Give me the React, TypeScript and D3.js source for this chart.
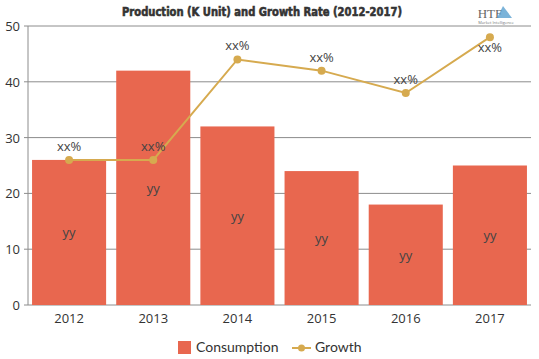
import React from "react";
import * as d3 from "d3";

const years = ["2012", "2013", "2014", "2015", "2016", "2017"];
const consumption = [26, 42, 32, 24, 18, 25];
const growth = [26, 26, 44, 42, 38, 48];
const barLabels = ["yy", "yy", "yy", "yy", "yy", "yy"];
const growthLabels = ["xx%", "xx%", "xx%", "xx%", "xx%", "xx%"];
const yTicks = [0, 10, 20, 30, 40, 50];

const W = 539, H = 359;
const left = 28, right = 531, top = 26, bottom = 305;
const barColor = "#E8674F";
const lineColor = "#D6AA4F";

export default function App() {
  const x = d3.scaleBand<string>().domain(years).range([left - 1, right + 1]).paddingInner(0.12).paddingOuter(0.06);
  const y = d3.scaleLinear().domain([0, 50]).range([bottom, top]);
  const cx = (d: string) => (x(d) as number) + x.bandwidth() / 2;
  const line = d3.line<number>().x((_, i) => cx(years[i])).y((v) => y(v));
  const font = "'Open Sans', 'DejaVu Sans', sans-serif";
  return (
    <svg width={W} height={H} style={{ position: "absolute", left: 0, top: 0, background: "#fff" }}>
      <text x={262} y={16} textAnchor="middle" fontFamily="'DejaVu Sans Condensed', 'DejaVu Sans', sans-serif" fontWeight="bold" fontSize={13} fill="#333" stroke="#333" strokeWidth={0.6} textLength={280} lengthAdjust="spacingAndGlyphs">
        Production (K Unit) and Growth Rate (2012-2017)
      </text>
      <g>
        <text x={490} y={18} textAnchor="middle" fontFamily="'Liberation Serif', serif" fontSize={13} fill="#666">HTF</text>
        <path d="M503 6 L512 18 L497 18 Z" fill="#5aa0d0" opacity={0.8} />
        <text x={496} y={24} textAnchor="middle" fontFamily={font} fontSize={4} fill="#777">Market Intelligence</text>
      </g>
      {yTicks.map((t) => (
        <g key={t}>
          <line x1={left - 4} x2={right} y1={y(t)} y2={y(t)} stroke="#8c8c8c" strokeWidth={1} />
          <text x={left - 8} y={y(t) + 5} textAnchor="end" fontFamily={font} fontSize={13} fill="#333">{t}</text>
        </g>
      ))}
      <line x1={left} x2={left} y1={top} y2={bottom} stroke="#8c8c8c" />
      {years.map((yr, i) => (
        <g key={yr}>
          <rect x={x(yr)} y={y(consumption[i])} width={x.bandwidth()} height={bottom - y(consumption[i])} fill={barColor} />
          <text x={cx(yr)} y={(y(consumption[i]) + bottom) / 2 + 5} textAnchor="middle" fontFamily={font} fontSize={13} fill="#444">{barLabels[i]}</text>
          <text x={cx(yr)} y={bottom + 18} textAnchor="middle" fontFamily={font} fontSize={13} fill="#333">{yr}</text>
        </g>
      ))}
      <path d={line(growth) || ""} fill="none" stroke={lineColor} strokeWidth={2} />
      {years.map((yr, i) => (
        <g key={"g" + yr}>
          <circle cx={cx(yr)} cy={y(growth[i])} r={4} fill={lineColor} />
          <text x={cx(yr)} y={i === 5 ? y(growth[i]) + 15 : y(growth[i]) - 9} textAnchor="middle" fontFamily={font} fontSize={13} fill="#444">{growthLabels[i]}</text>
        </g>
      ))}
      <g fontFamily="Lato, 'Open Sans', sans-serif" fontSize={14} fill="#333">
        <rect x={178} y={341} width={13} height={13} fill={barColor} />
        <text x={196} y={352}>Consumption</text>
        <line x1={292} x2={311} y1={348} y2={348} stroke={lineColor} strokeWidth={2} />
        <circle cx={301.5} cy={348} r={3.5} fill={lineColor} />
        <text x={315} y={352}>Growth</text>
      </g>
    </svg>
  );
}
